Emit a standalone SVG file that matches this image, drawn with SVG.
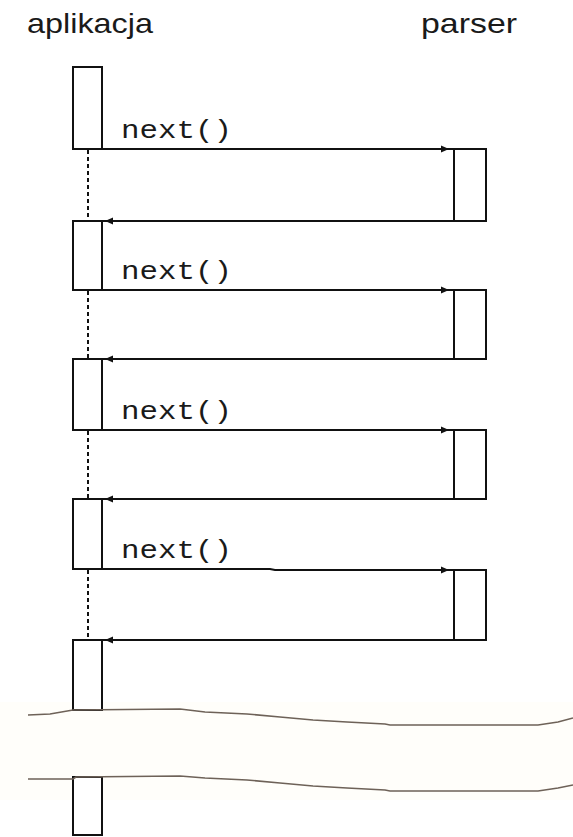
<svg xmlns="http://www.w3.org/2000/svg" width="573" height="837" viewBox="0 0 573 837">
  <style>
    .box { fill: #ffffff; stroke: #111111; stroke-width: 2; }
    .msg { fill: none; stroke: #111111; stroke-width: 2; }
    .life { fill: none; stroke: #111111; stroke-width: 2; stroke-dasharray: 4 3; }
    .head { fill: #111111; }
    .title { font-family: "Liberation Sans", Arial, sans-serif; font-size: 28px; fill: #1a1a1a; }
    .call { font-family: "Liberation Mono", "Courier New", monospace; font-size: 25px; fill: #1a1a1a; }
    .cut { fill: none; stroke: #6e6258; stroke-width: 1.6; }
  </style>

  <rect width="573" height="837" fill="#ffffff"/>
  <!-- faint band behind the break marks -->
  <rect x="0" y="702" width="573" height="98" fill="#fffefa"/>

  <!-- lifeline headings -->
  <text class="title" x="27" y="33" textLength="126" lengthAdjust="spacingAndGlyphs">aplikacja</text>
  <text class="title" x="421" y="33" textLength="96" lengthAdjust="spacingAndGlyphs">parser</text>

  <!-- connectors: calls, returns and idle lifeline segments -->
  <g id="connectors">
    <line class="msg" x1="102" y1="149" x2="454" y2="149"/>
    <polygon class="head" points="449,149 441,145.5 441,152.5"/>
    <line class="msg" x1="454" y1="221" x2="102" y2="221"/>
    <polygon class="head" points="105,221 113,217.5 113,224.5"/>

    <line class="msg" x1="102" y1="290" x2="454" y2="290"/>
    <polygon class="head" points="449,290 441,286.5 441,293.5"/>
    <line class="msg" x1="454" y1="359" x2="102" y2="359"/>
    <polygon class="head" points="105,359 113,355.5 113,362.5"/>

    <line class="msg" x1="102" y1="430" x2="454" y2="430"/>
    <polygon class="head" points="449,430 441,426.5 441,433.5"/>
    <line class="msg" x1="454" y1="499" x2="102" y2="499"/>
    <polygon class="head" points="105,499 113,495.5 113,502.5"/>

    <polyline class="msg" points="102,569 270,569 275,570 454,570"/>
    <polygon class="head" points="449,570 441,566.5 441,573.5"/>
    <line class="msg" x1="454" y1="640" x2="102" y2="640"/>
    <polygon class="head" points="105,640 113,636.5 113,643.5"/>

    <line class="life" x1="88" y1="150" x2="88" y2="221"/>
    <line class="life" x1="88" y1="291" x2="88" y2="359"/>
    <line class="life" x1="88" y1="431" x2="88" y2="499"/>
    <line class="life" x1="88" y1="570" x2="88" y2="640"/>
  </g>

  <!-- call labels -->
  <text class="call" x="121" y="138" textLength="111" lengthAdjust="spacingAndGlyphs">next()</text>
  <text class="call" x="121" y="279" textLength="111" lengthAdjust="spacingAndGlyphs">next()</text>
  <text class="call" x="121" y="419" textLength="111" lengthAdjust="spacingAndGlyphs">next()</text>
  <text class="call" x="121" y="558" textLength="111" lengthAdjust="spacingAndGlyphs">next()</text>

  <!-- application activations -->
  <g id="app1"><rect class="box" x="73" y="67" width="29" height="82"/></g>
  <g id="app2"><rect class="box" x="73" y="221" width="29" height="69"/></g>
  <g id="app3"><rect class="box" x="73" y="359" width="29" height="71"/></g>
  <g id="app4"><rect class="box" x="73" y="499" width="29" height="70"/></g>
  <g id="app5"><rect class="box" x="73" y="640" width="29" height="70"/></g>
  <g id="app6"><rect class="box" x="73" y="777" width="29" height="58"/></g>

  <!-- parser activations -->
  <g id="parser1"><rect class="box" x="454" y="149" width="32" height="72"/></g>
  <g id="parser2"><rect class="box" x="454" y="290" width="32" height="69"/></g>
  <g id="parser3"><rect class="box" x="454" y="430" width="32" height="69"/></g>
  <g id="parser4"><rect class="box" x="454" y="570" width="32" height="70"/></g>

  <!-- break marks across the timeline -->
  <path class="cut" d="M28,715 L50,714 L73,710 L180,709 L205,712 L247,714 L280,717 L313,720 L347,722 L385,724 L390,725 L538,725 L558,722 L573,718"/>
  <path class="cut" d="M28,779 L73,779 L76,777 L180,776 L205,778 L247,780 L280,783 L313,786 L347,788 L385,790 L390,791 L538,791 L558,788 L573,785"/>
</svg>
